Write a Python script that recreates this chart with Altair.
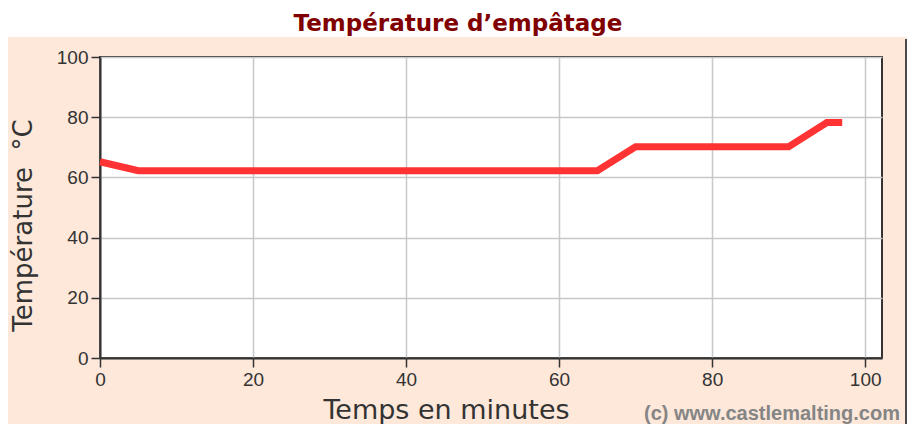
import altair as alt
import pandas as pd

# data
time_min = [0, 5, 65, 70, 90, 95, 97]
temp_c = [65.2, 62.2, 62.2, 70.2, 70.2, 78.2, 78.2]
x_ticks = [0, 20, 40, 60, 80, 100]
y_ticks = [0, 20, 40, 60, 80, 100]

title_text = "Température d\u2019empâtage"
x_title = "Temps en minutes"
y_title = "Température\u00a0\u00a0°C"
credit = "(c) www.castlemalting.com"

PEACH = "#fde8da"

df = pd.DataFrame({"t": time_min, "temp": temp_c})
one = pd.DataFrame({"k": [0]})

line = alt.Chart(df).mark_line(color="#ff3333", strokeWidth=7, strokeCap="butt", strokeJoin="miter").encode(
    x=alt.X("t:Q", scale=alt.Scale(domain=[0, 102.2], nice=False, zero=False),
            axis=alt.Axis(values=x_ticks, title=x_title, titleX=346, titleY=60,
                          titleBaseline="alphabetic", titleAlign="center", titleAngle=0,
                          titleFont="DejaVu Sans", titleFontSize=27, titleFontWeight="normal",
                          titleColor="#333333")),
    y=alt.Y("temp:Q", scale=alt.Scale(domain=[0, 100], nice=False),
            axis=alt.Axis(values=y_ticks, title=y_title, titleX=-69, titleY=168, titleAngle=270,
                          titleBaseline="alphabetic", titleAlign="center",
                          titleFont="DejaVu Sans", titleFontSize=26, titleFontWeight="normal",
                          titleColor="#333333")),
)

# white band behind the title, right border line and white margin
band = alt.Chart(one).mark_rect(color="white").encode(
    x=alt.value(-92), x2=alt.value(812), y=alt.value(-49), y2=alt.value(-20))
right_line = alt.Chart(one).mark_rect(color="#4a4a4a").encode(
    x=alt.value(805), x2=alt.value(807), y=alt.value(-18), y2=alt.value(370))
right_white = alt.Chart(one).mark_rect(color="white").encode(
    x=alt.value(807), x2=alt.value(812), y=alt.value(-49), y2=alt.value(370))

title_mark = alt.Chart(pd.DataFrame({"s": [title_text]})).mark_text(
    align="center", baseline="alphabetic", font="DejaVu Sans", fontWeight="bold",
    fontSize=23, color="#800000").encode(
    text="s:N", x=alt.value(358), y=alt.value(-26))

credit_text = alt.Chart(pd.DataFrame({"s": [credit]})).mark_text(
    align="right", baseline="alphabetic", font="Liberation Sans", fontWeight="bold",
    fontSize=20, color="#858585").encode(
    text="s:N", x=alt.value(800), y=alt.value(363))

chart = alt.layer(band, right_line, right_white, title_mark, line, credit_text).properties(
    width=782, height=301,
    padding={"left": 92, "top": 49, "right": 28, "bottom": 66},
    autosize=alt.AutoSizeParams(type="none"),
    background=PEACH,
).configure_view(
    fill="white", stroke="#333333", strokeWidth=2
).configure_axis(
    domainColor="#333333", domainWidth=2,
    tickColor="#333333", tickWidth=1.5, tickSize=9,
    gridColor="#c8c8c8", gridWidth=1.5,
    labelFont="Liberation Sans", labelFontSize=19, labelColor="#333333",
    labelPadding=3,
).configure_axisX(labelFlush=False).configure_axisY(labelFlush=False)

chart.save("out.html", embed_options={"renderer": "svg", "actions": False})
